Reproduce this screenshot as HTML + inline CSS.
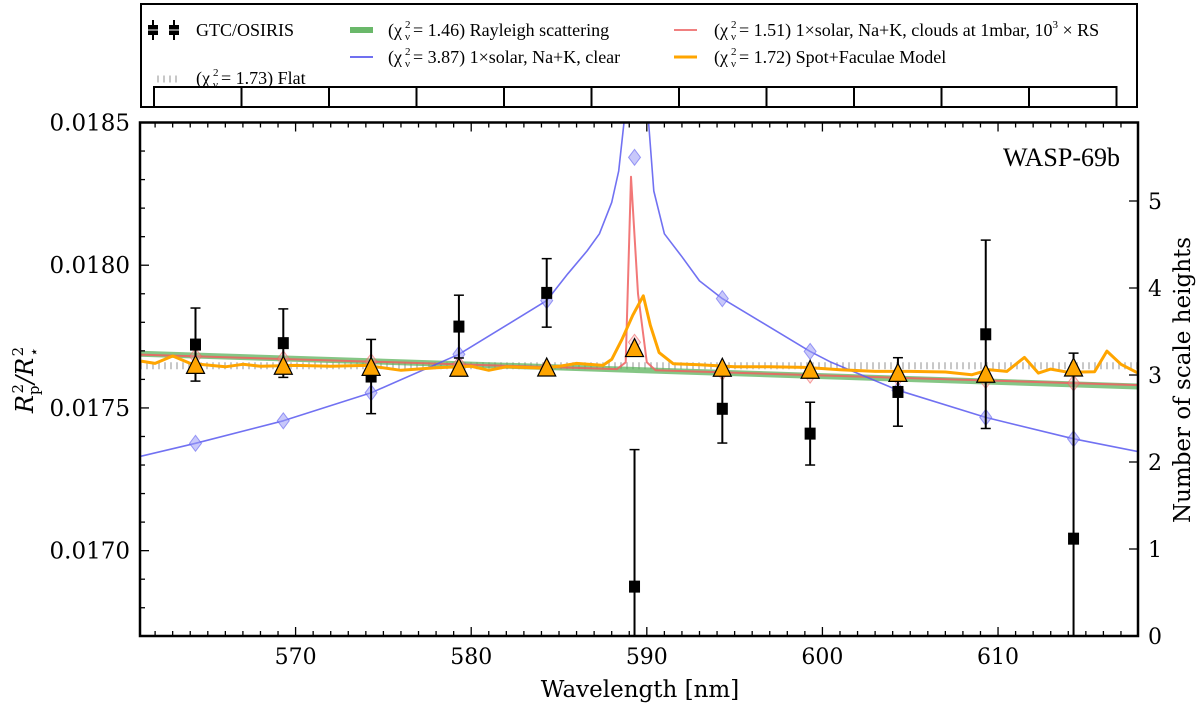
<!DOCTYPE html>
<html><head><meta charset="utf-8">
<style>
html,body{margin:0;padding:0;background:#fff;}
svg{display:block;}
text{font-family:"DejaVu Serif","Liberation Serif",serif;fill:#000;}
.lg{font-family:"Liberation Serif","DejaVu Serif",serif;font-size:18px;}
.lgs{font-family:"Liberation Serif","DejaVu Serif",serif;font-size:11px;}
</style></head>
<body>
<svg id="chart" width="1200" height="707" viewBox="0 0 1200 707" xmlns="http://www.w3.org/2000/svg">
<defs><clipPath id="plotclip"><rect x="140" y="122.5" width="998" height="513.5"/></clipPath></defs>
<g>
  <rect x="141" y="4" width="996" height="103" fill="#fff" stroke="#000" stroke-width="2"/>
  <g>
    <rect x="148" y="25" width="10" height="10" fill="#000"/><line x1="153" y1="20" x2="153" y2="40" stroke="#000" stroke-width="2"/><line x1="147" y1="30" x2="159" y2="30" stroke="#fff" stroke-width="1"/>
    <rect x="169" y="25" width="10" height="10" fill="#000"/><line x1="174" y1="20" x2="174" y2="40" stroke="#000" stroke-width="2"/><line x1="168" y1="30" x2="180" y2="30" stroke="#fff" stroke-width="1"/>
    <text class="lg" x="196" y="36">GTC/OSIRIS</text>
  </g>
  <g>
    <line x1="350" y1="30" x2="373" y2="30" stroke="#6ab86a" stroke-width="6"/>
    <text class="lg" x="388" y="36">(χ</text><text class="lgs" x="405" y="28">2</text><text class="lgs" x="405" y="40">ν</text>
    <text class="lg" x="413" y="36">= 1.46) Rayleigh scattering</text>
  </g>
  <g>
    <line x1="674" y1="30" x2="697" y2="30" stroke="#f08080" stroke-width="2"/>
    <text class="lg" x="714" y="36">(χ</text><text class="lgs" x="731" y="28">2</text><text class="lgs" x="731" y="40">ν</text>
    <text class="lg" x="739" y="36">= 1.51) 1×solar, Na+K, clouds at 1mbar, 10<tspan class="lgs" dy="-8">3</tspan><tspan dy="8"> × RS</tspan></text>
  </g>
  <g>
    <line x1="350" y1="57" x2="373" y2="57" stroke="#7070f0" stroke-width="2"/>
    <text class="lg" x="388" y="63">(χ</text><text class="lgs" x="405" y="55">2</text><text class="lgs" x="405" y="67">ν</text>
    <text class="lg" x="413" y="63">= 3.87) 1×solar, Na+K, clear</text>
  </g>
  <g>
    <line x1="674" y1="57" x2="697" y2="57" stroke="#ffa500" stroke-width="3"/>
    <text class="lg" x="714" y="63">(χ</text><text class="lgs" x="731" y="55">2</text><text class="lgs" x="731" y="67">ν</text>
    <text class="lg" x="739" y="63">= 1.72) Spot+Faculae Model</text>
  </g>
  <g>
    <line x1="157" y1="79" x2="177" y2="79" stroke="#c8c8c8" stroke-width="7" stroke-dasharray="2,4"/>
    <text class="lg" x="196" y="84">(χ</text><text class="lgs" x="213" y="76">2</text><text class="lgs" x="213" y="88">ν</text>
    <text class="lg" x="221" y="84">= 1.73) Flat</text>
  </g>
  <g id="binboxes"></g>
</g>
<g id="plot"></g>
<text x="1120" y="166" text-anchor="end" style="font-family:'Liberation Serif','DejaVu Serif',serif;font-size:26px">WASP-69b</text>
<text x="640" y="697" text-anchor="middle" font-size="23">Wavelength [nm]</text>
<text transform="translate(33,380) rotate(-90)" text-anchor="middle" font-size="24" font-style="italic">R<tspan font-size="15" font-style="normal" dy="6">p</tspan><tspan font-size="15" dx="-8" dy="-16" font-style="normal">2</tspan><tspan dy="10">/R</tspan><tspan font-size="15" dy="6">⋆</tspan><tspan font-size="15" dx="-8" dy="-16" font-style="normal">2</tspan></text>
<text transform="translate(1190,380) rotate(-90)" text-anchor="middle" font-size="23">Number of scale heights</text>
</svg>
<script>
// ---- data ----
const binCenters = [564.3,569.3,574.3,579.3,584.3,589.3,594.3,599.3,604.3,609.3,614.3];
const obsValues = [0.017722,0.017727,0.01761,0.017785,0.017903,0.016874,0.017497,0.01741,0.017556,0.017758,0.017042];
const obsErrors = [0.000128,0.00012,0.00013,0.00011,0.00012,0.00048,0.00012,0.00011,0.00012,0.00033,0.00065];
const spotBinned = [0.017649,0.017646,0.017642,0.017639,0.01764,0.017708,0.017639,0.017632,0.017621,0.017618,0.01764];
const clearBinned = [0.017376,0.017455,0.017553,0.017688,0.017876,0.018378,0.017883,0.017698,0.017562,0.017467,0.017392];
const cloudBinned = [0.017681,0.017672,0.017662,0.017653,0.017643,0.01773,0.017625,0.017615,0.017606,0.017596,0.017587];
const clearWl = [561.14,564.3,569.3,574.3,579.3,584.3,585.5,586.6,587.3,588.0,588.4,588.7,589,589.8,590.1,590.4,591,592,593,594.3,599.3,600.5,604.3,609.3,614.3,617.97];
const clearVal = [0.01733,0.017376,0.017455,0.017553,0.017688,0.017876,0.01797,0.01805,0.01811,0.01822,0.01833,0.0185,0.0190,0.0190,0.0185,0.01826,0.01811,0.01803,0.017945,0.017883,0.017698,0.01766,0.017562,0.017467,0.017392,0.017347];
const cloudWl = [561.14,588.3,588.8,589.1,589.5,590.0,590.5,617.97];
const cloudVal = [0.017687,0.017636,0.01766,0.01831,0.0179,0.01766,0.017632,0.01758];
const rayWl = [561.14,617.97];
const rayVal = [0.01769,0.017575];
const flatVal = 0.017648;
const spotWl = [561.2,562,563,564,566,567,568,570,572,574,576,578,580,581,582,584,585,586,587.5,588,588.6,589.2,589.8,590.2,590.7,591.5,593,595,597,599,601,603,605,607,608.5,609.5,610.5,611.5,612.3,613,614,615.5,616.2,617,617.97];
const spotVal = [0.017664,0.017656,0.017682,0.017656,0.017644,0.017653,0.017646,0.017649,0.017646,0.017649,0.017632,0.017641,0.017646,0.017632,0.017644,0.01764,0.017646,0.017656,0.017649,0.01767,0.017742,0.017825,0.017893,0.01779,0.017694,0.017655,0.017651,0.017644,0.017644,0.017642,0.017634,0.017628,0.017628,0.017626,0.017616,0.017634,0.017628,0.017677,0.017622,0.017636,0.017625,0.017627,0.017699,0.017653,0.017622];
const xTicks = [570,580,590,600,610];
const yTicks = [0.0170,0.0175,0.0180,0.0185];
const rTicks = [0,1,2,3,4,5];

// ---- axes ----
const X0=140,X1=1138,Y0=122.5,Y1=636;
const xmin=561.14,xmax=617.97,ymin=0.016701,ymax=0.0185;
const sx=w=>X0+(w-xmin)/(xmax-xmin)*(X1-X0);
const sy=v=>Y1-(v-ymin)/(ymax-ymin)*(Y1-Y0);
const sr=n=>636-n*87;
const NS='http://www.w3.org/2000/svg';
function mk(tag,attrs,parent){const e=document.createElementNS(NS,tag);for(const k in attrs)e.setAttribute(k,attrs[k]);parent.appendChild(e);return e;}
const plot=document.getElementById('plot');
const boxes=document.getElementById('binboxes');
for(let i=0;i<11;i++){
  const r=mk('rect',{x:154+i*87.5,y:87,width:87.5,height:20,fill:'none',stroke:'#000','stroke-width':2},boxes);
  
  
}
const clipG=mk('g',{'clip-path':'url(#plotclip)'},plot);


function line(wl,val,attrs,name){
  const d=wl.map((w,i)=>(i?'L':'M')+sx(w).toFixed(1)+','+sy(val[i]).toFixed(1)).join('');
  const p=mk('path',Object.assign({d:d,fill:'none','stroke-linejoin':'round'},attrs),clipG);
  
  
}
const fl=mk('line',{x1:X0,x2:X1,y1:sy(flatVal),y2:sy(flatVal),stroke:'#c8c8c8','stroke-width':7,'stroke-dasharray':'2,4'},clipG);


line(rayWl,rayVal,{stroke:'#5cb35c','stroke-width':6,'stroke-opacity':0.75},'rayleigh-line');
line(cloudWl,cloudVal,{stroke:'#f06060','stroke-width':2,'stroke-opacity':0.85},'cloudy-model-line');
line(clearWl,clearVal,{stroke:'#5858f0','stroke-width':1.6,'stroke-opacity':0.85},'clear-model-line');
binCenters.forEach((w,i)=>{
  const x=sx(w),y=sy(clearBinned[i]);
  const d=mk('path',{d:`M${x},${y-8}L${x+6},${y}L${x},${y+8}L${x-6},${y}Z`,fill:'#9a9af5','fill-opacity':0.55,stroke:'#6060f0','stroke-opacity':0.6},clipG);
  
  
  const y2=sy(cloudBinned[i]);
  const d2=mk('path',{d:`M${x},${y2-8}L${x+6},${y2}L${x},${y2+8}L${x-6},${y2}Z`,fill:'#f5a0a0','fill-opacity':0.3,stroke:'#f06060','stroke-opacity':0.6},clipG);
  
  
});
line(spotWl,spotVal,{stroke:'#ffa500','stroke-width':3},'spot-faculae-line');
binCenters.forEach((w,i)=>{
  const x=sx(w),y=sy(obsValues[i]),yt=sy(obsValues[i]+obsErrors[i]),yb=sy(obsValues[i]-obsErrors[i]);
  const g=mk('g',{},clipG);
  
  
  mk('line',{x1:x,x2:x,y1:yt,y2:yb,stroke:'#000','stroke-width':2},g);
  mk('line',{x1:x-5,x2:x+5,y1:yt,y2:yt,stroke:'#000','stroke-width':1.5},g);
  mk('line',{x1:x-5,x2:x+5,y1:yb,y2:yb,stroke:'#000','stroke-width':1.5},g);
  mk('rect',{x:x-5.5,y:y-6,width:11,height:12,fill:'#000'},g);
});
binCenters.forEach((w,i)=>{
  const x=sx(w),y=sy(spotBinned[i]);
  const t=mk('path',{d:`M${x},${y-10}L${x+9},${y+8}L${x-9},${y+8}Z`,fill:'#ffa500',stroke:'#000','stroke-width':1.2},clipG);
  
  
});
const fr=mk('rect',{x:X0,y:Y0,width:X1-X0,height:Y1-Y0,fill:'none',stroke:'#000','stroke-width':2.5},plot);


for(let w=562;w<=617;w++){
  const x=sx(w),L=(w%10===0)?9:5;
  mk('line',{x1:x,x2:x,y1:Y1,y2:Y1-L,stroke:'#000','stroke-width':1.3},plot);
  mk('line',{x1:x,x2:x,y1:Y0,y2:Y0+L,stroke:'#000','stroke-width':1.3},plot);
}
xTicks.forEach(t=>{
  const tx=mk('text',{x:sx(t),y:664,'text-anchor':'middle','font-size':22},plot);
  tx.textContent=t;
  
  
});
for(let k=168;k<=185;k++){
  const v=k/10000,y=sy(v),L=(k%5===0)?9:5;
  mk('line',{x1:X0,x2:X0+L,y1:y,y2:y,stroke:'#000','stroke-width':1.3},plot);
}
yTicks.forEach(t=>{
  const tx=mk('text',{x:130,y:sy(t)+8,'text-anchor':'end','font-size':23},plot);
  tx.textContent=t.toFixed(4);
  
  
});
rTicks.forEach(t=>{
  mk('line',{x1:X1,x2:X1-9,y1:sr(t),y2:sr(t),stroke:'#000','stroke-width':1.3},plot);
  const tx=mk('text',{x:1148,y:sr(t)+8,'font-size':22},plot);
  tx.textContent=t;
  
  
});
</script>
</body></html>
